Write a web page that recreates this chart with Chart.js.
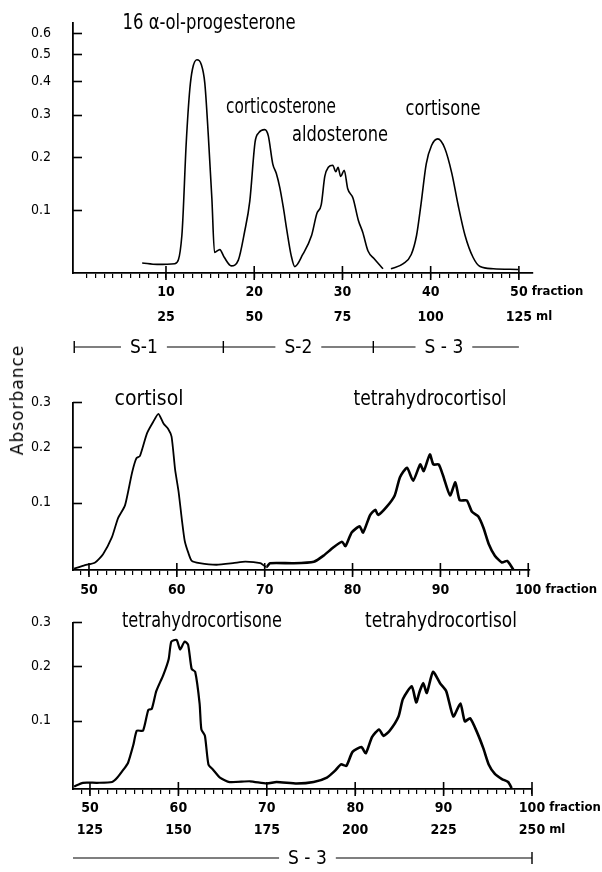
<!DOCTYPE html>
<html>
<head>
<meta charset="utf-8">
<script src="https://cdn.jsdelivr.net/npm/chart.js@4.4.1/dist/chart.umd.min.js"></script>
<style>
  body { margin: 0; background: #fff; width: 602px; height: 872px; position: relative; overflow: hidden; }
  canvas { position: absolute; left: 0; }
  #yTitle {
    position: absolute; left: 17px; top: 400px;
    transform: translate(-50%, -50%) rotate(-90deg);
    font: 17px "DejaVu Sans", sans-serif; letter-spacing: 1px; color: #000; white-space: nowrap;
  }
</style>
</head>
<body>
<canvas id="c1" width="602" height="362" style="top:0px"></canvas>
<canvas id="c2" width="602" height="220" style="top:380px"></canvas>
<canvas id="c3" width="602" height="272" style="top:600px"></canvas>
<div id="yTitle">Absorbance</div>
<script>
// --- valeurs (fraction -> absorbance) ---
const topFraction = [7.3, 9.0, 11.0, 11.8, 12.3, 12.7, 13.0, 13.5, 14.0, 14.4,
  14.8, 15.2, 15.5, 16.1, 16.6, 17.4, 18.2, 18.9, 19.5, 20.1,
  20.5, 21.2, 21.6, 22.1, 22.5, 22.9, 23.3, 23.7, 24.2, 24.6,
  25.5, 26.5, 27.1, 27.6, 28.0, 28.4, 28.9, 29.25, 29.5, 29.8,
  30.2, 30.6, 31.2, 31.8, 32.3, 32.9, 33.6, 34.6, 35.0, 35.5,
  36.9, 37.8, 38.4, 38.9, 39.5, 40.1, 40.8, 41.6, 42.4, 43.1,
  43.9, 44.8, 45.6, 47.1, 49.9];
const topAbs = [0.020, 0.018, 0.019, 0.060, 0.233, 0.373, 0.441, 0.477, 0.459, 0.393,
  0.247, 0.121, 0.035, 0.039, 0.028, 0.016, 0.024, 0.065, 0.116, 0.233,
  0.254, 0.262, 0.247, 0.186, 0.167, 0.140, 0.105, 0.068, 0.030, 0.015,
  0.032, 0.060, 0.095, 0.110, 0.161, 0.179, 0.183, 0.170, 0.179, 0.161,
  0.173, 0.138, 0.121, 0.084, 0.065, 0.037, 0.026, 0.012, null, 0.012,
  0.019, 0.032, 0.060, 0.110, 0.186, 0.225, 0.240, 0.219, 0.167, 0.110,
  0.060, 0.028, 0.015, 0.012, 0.011];

const midFraction = [48.3, 49.4, 50.7, 51.6, 52.6, 53.3, 54.1, 54.9, 55.4, 55.8,
  56.6, 57.3, 57.9, 58.5, 59.0, 59.4, 59.8, 60.2, 60.6, 60.9,
  61.3, 61.7, 62.6, 64.5, 66.4, 67.8, 69.5, 70.2, 70.6, 73.3,
  75.6, 76.7, 77.8, 78.8, 79.2, 79.9, 80.8, 81.2, 82.0, 82.6,
  82.9, 83.9, 84.8, 85.4, 86.2, 86.9, 87.7, 88.1, 88.8, 89.2,
  89.8, 90.3, 91.1, 91.7, 92.2, 93.0, 93.6, 94.3, 94.9, 95.5,
  96.2, 97.0, 97.6, 98.3];
const midAbs = [0.006, 0.010, 0.014, 0.025, 0.048, 0.076, 0.096, 0.151, 0.178, 0.182,
  0.228, 0.253, 0.272, 0.249, 0.238, 0.221, 0.157, 0.118, 0.071, 0.043,
  0.027, 0.016, 0.013, 0.011, 0.013, 0.015, 0.013, 0.008, 0.013, 0.013,
  0.015, 0.023, 0.034, 0.042, 0.036, 0.055, 0.064, 0.055, 0.081, 0.089,
  0.081, 0.094, 0.112, 0.143, 0.160, 0.137, 0.166, 0.154, 0.185, 0.166,
  0.166, 0.146, 0.112, 0.134, 0.104, 0.104, 0.086, 0.079, 0.062, 0.039,
  0.023, 0.014, 0.016, 0.005];

const lowFraction = [48.2, 49.2, 50.8, 52.5, 53.1, 53.8, 54.3, 54.9, 55.3, 56.0,
  56.6, 57.0, 57.5, 58.3, 58.9, 59.2, 59.8, 60.2, 60.7, 61.1,
  61.5, 61.9, 62.4, 62.6, 63.0, 63.4, 63.9, 64.7, 65.8, 68.1,
  70.0, 71.1, 73.4, 75.3, 76.8, 77.7, 78.4, 79.0, 79.7, 80.7,
  81.2, 81.9, 82.7, 83.2, 83.9, 84.9, 85.4, 86.4, 86.9, 87.3,
  87.7, 88.1, 88.8, 89.6, 90.3, 91.1, 91.9, 92.4, 93.0, 93.8,
  94.5, 95.1, 95.8, 96.6, 97.3, 97.7];
const lowAbs = [0.004, 0.009, 0.009, 0.010, 0.016, 0.027, 0.036, 0.062, 0.084, 0.084,
  0.118, 0.120, 0.151, 0.182, 0.214, 0.253, 0.257, 0.235, 0.253, 0.246,
  0.194, 0.188, 0.129, 0.086, 0.076, 0.034, 0.027, 0.016, 0.010, 0.011,
  0.008, 0.010, 0.008, 0.010, 0.016, 0.025, 0.034, 0.032, 0.052, 0.059,
  0.050, 0.074, 0.086, 0.076, 0.084, 0.107, 0.137, 0.160, 0.131, 0.151,
  0.166, 0.148, 0.188, 0.166, 0.151, 0.107, 0.129, 0.099, 0.104, 0.081,
  0.057, 0.034, 0.021, 0.014, 0.010, 0.002];

// graduations
const topYTicks = [0.1, 0.2, 0.3, 0.4, 0.5, 0.6];
const lowYTicks = [0.1, 0.2, 0.3];
const topMajor = [10, 20, 30, 40, 50];
const topMl = [25, 50, 75, 100, 125];
const lowMajor = [50, 60, 70, 80, 90, 100];
const lowMl = [125, 150, 175, 200, 225, 250];

const NUM = '"DejaVu Sans Condensed", "DejaVu Sans", sans-serif';
const NAME_FONT = '22px "Liberation Sans Narrow", "DejaVu Sans Condensed", sans-serif';
const STEP_FONT = '19px "Liberation Sans Narrow", "DejaVu Sans Condensed", sans-serif';

// l'axe vertical est gradué en absorbance mais linéaire en transmission
const toT = a => 1 - Math.pow(10, -a);
const fromT = t => -Math.log10(1 - t);
const pts = (xs, ys) => xs.map((f, i) => ({ x: f, y: ys[i] === null ? null : toT(ys[i]) }));
const range = (a, b) => { const r = []; for (let v = a; v <= b; v++) r.push(v); return r; };

function fitText(ctx, text, cx, baseline, w) {
  const m = ctx.measureText(text).width;
  ctx.save();
  ctx.translate(cx, baseline);
  ctx.scale(w / m, 1);
  ctx.fillText(text, 0, 0);
  ctx.restore();
}

const inkPlugin = {
  id: 'ink',
  afterDraw(chart, args, o) {
    const { ctx, chartArea: a, scales: { x, y } } = chart;
    const seg = (x1, y1, x2, y2) => { ctx.beginPath(); ctx.moveTo(x1, y1); ctx.lineTo(x2, y2); ctx.stroke(); };
    ctx.save();
    ctx.strokeStyle = '#000';
    ctx.fillStyle = '#000';
    ctx.lineWidth = 1.6;

    // petits traits vers l'intérieur sur l'axe vertical
    y.ticks.forEach(t => {
      const py = Math.round(y.getPixelForValue(t.value)) + 0.5;
      seg(a.left, py, a.left + 9, py);
    });
    // grands traits qui traversent l'axe horizontal
    o.major.forEach(v => {
      const px = x.getPixelForValue(v);
      seg(px, a.bottom - 7, px, a.bottom + 7);
    });

    // "fraction" / "ml" après la dernière étiquette
    const rowTop = a.bottom + 5 + o.xPad;
    ctx.textAlign = 'left';
    ctx.textBaseline = 'middle';
    o.units.forEach((u, i) => {
      const px = x.getPixelForValue(u.at);
      ctx.font = 'bold 14px ' + NUM;
      const lx = px + ctx.measureText(u.label).width / 2 + 4;
      ctx.font = 'bold 13px ' + NUM;
      ctx.fillText(u.text, lx, rowTop + o.xLH * (i + 0.5));
    });

    // noms des stéroïdes
    ctx.font = NAME_FONT;
    ctx.textAlign = 'center';
    ctx.textBaseline = 'alphabetic';
    o.names.forEach(n => fitText(ctx, n.text, n.cx, n.base - o.top, n.w));

    // solvants S-1, S-2, S-3
    if (o.steps) {
      const s = o.steps;
      const ly = s.y - o.top;
      ctx.lineWidth = 1.1;
      ctx.font = STEP_FONT;
      ctx.textBaseline = 'middle';
      for (let i = 0; i < s.names.length; i++) {
        const x1 = x.getPixelForValue(s.bounds[i]);
        const x2 = x.getPixelForValue(s.bounds[i + 1]);
        const xc = x.getPixelForValue(s.at[i]);
        const half = ctx.measureText(s.names[i]).width / 2 + 9;
        seg(x1, ly, xc - half, ly);
        seg(xc + half, ly, x2, ly);
        ctx.fillText(s.names[i], xc, ly + 1);
      }
      ctx.lineWidth = 1.4;
      s.ticks.forEach(v => {
        const px = x.getPixelForValue(v);
        seg(px, ly - 6, px, ly + 6);
      });
    }
    ctx.restore();
  }
};

function makeChart(id, o) {
  return new Chart(document.getElementById(id), {
    type: 'line',
    data: {
      datasets: [{
        data: pts(o.xs, o.ys),
        borderColor: '#000',
        borderWidth: o.lw,
        pointRadius: 0,
        fill: false,
        spanGaps: false,
        tension: o.tension,
        cubicInterpolationMode: o.mono ? 'monotone' : 'default',
        segment: o.segment || {}
      }]
    },
    options: {
      responsive: false,
      animation: false,
      events: [],
      layout: { padding: o.pad },
      plugins: { legend: { display: false }, tooltip: { enabled: false }, ink: o.ink },
      scales: {
        x: {
          type: 'linear', min: o.xMin, max: o.xMax,
          afterFit: s => { s.height = o.xH; },
          afterBuildTicks: s => { s.ticks = o.minor.map(v => ({ value: v })); },
          grid: { display: true, drawOnChartArea: false, drawTicks: true, tickLength: 5, color: '#000', lineWidth: 1.2 },
          border: { display: true, color: '#000', width: 1.8 },
          ticks: {
            autoSkip: false, maxRotation: 0, minRotation: 0, padding: o.ink.xPad, color: '#000',
            font: { family: NUM, size: 14, weight: 'bold', lineHeight: o.ink.xLH + 'px' },
            callback: v => o.xLabel(v)
          }
        },
        y: {
          type: 'linear', min: o.yMin, max: o.yMax,
          afterFit: s => { s.width = 73; },
          afterBuildTicks: s => { s.ticks = o.yTicks.map(a => ({ value: toT(a) })); },
          grid: { display: false },
          border: { display: true, color: '#000', width: 1.8 },
          ticks: { padding: 14, color: '#000', font: { family: NUM, size: 14 }, callback: v => fromT(v).toFixed(1) }
        }
      }
    },
    plugins: [inkPlugin]
  });
}

// 1. colonne S-1 / S-2 / S-3, fractions 0-50
makeChart('c1', {
  xs: topFraction, ys: topAbs, lw: 1.6, tension: 0.3, mono: true,
  xMin: -0.54, xMax: 51.6, yMin: 0.0143, yMax: 0.781,
  pad: { left: 0, top: 5, right: 69, bottom: 29 }, xH: 60,
  minor: range(1, 50), yTicks: topYTicks,
  xLabel: v => { const i = topMajor.indexOf(v); return i < 0 ? '' : [String(v), String(topMl[i])]; },
  ink: {
    top: 0, xPad: 1.5, xLH: 25, major: topMajor,
    units: [{ at: 50, label: '50', text: 'fraction' }, { at: 50, label: '125', text: 'ml' }],
    names: [
      { text: '16 \u03b1-ol-progesterone', cx: 209, base: 29, w: 173 },
      { text: 'corticosterone', cx: 281, base: 113, w: 110 },
      { text: 'aldosterone', cx: 340, base: 141, w: 96 },
      { text: 'cortisone', cx: 443, base: 115, w: 75 }
    ],
    steps: { y: 347, bounds: [-0.4, 16.5, 33.5, 50], at: [7.5, 25, 41.5], names: ['S-1', 'S-2', 'S - 3'], ticks: [-0.4, 16.5, 33.5] }
  }
});

// 2. cortisol + tétrahydrocortisol, fractions 50-100
makeChart('c2', {
  xs: midFraction, ys: midAbs, lw: 1.8, tension: 0.2,
  segment: { borderWidth: c => (c.p0.parsed.x >= 70 ? 2.6 : 1.8) },
  xMin: 48.18, xMax: 100.2, yMin: 0.0097, yMax: toT(0.3),
  pad: { left: 0, top: 18, right: 72, bottom: 2 }, xH: 28,
  minor: range(49, 100), yTicks: lowYTicks,
  xLabel: v => (lowMajor.includes(v) ? String(v) : ''),
  ink: {
    top: 380, xPad: 2.5, xLH: 25, major: lowMajor,
    units: [{ at: 100, label: '100', text: 'fraction' }],
    names: [
      { text: 'cortisol', cx: 149, base: 405, w: 69 },
      { text: 'tetrahydrocortisol', cx: 430, base: 405, w: 153 }
    ]
  }
});

// 3. tétrahydrocortisone + tétrahydrocortisol, fractions 50-100
makeChart('c3', {
  xs: lowFraction, ys: lowAbs, lw: 2.2, tension: 0.2,
  segment: { borderWidth: c => (c.p0.parsed.x >= 70 ? 2.6 : 2.2) },
  xMin: 48.08, xMax: 100, yMin: 0.002, yMax: toT(0.3),
  pad: { left: 0, top: 15, right: 70, bottom: 29 }, xH: 54,
  minor: range(49, 100), yTicks: lowYTicks,
  xLabel: v => { const i = lowMajor.indexOf(v); return i < 0 ? '' : [String(v), String(lowMl[i])]; },
  ink: {
    top: 600, xPad: 3, xLH: 22, major: lowMajor,
    units: [{ at: 100, label: '100', text: 'fraction' }, { at: 100, label: '250', text: 'ml' }],
    names: [
      { text: 'tetrahydrocortisone', cx: 202, base: 627, w: 160 },
      { text: 'tetrahydrocortisol', cx: 441, base: 627, w: 152 }
    ],
    steps: { y: 858, bounds: [48.08, 100], at: [74.6], names: ['S - 3'], ticks: [100] }
  }
});
</script>
</body>
</html>
